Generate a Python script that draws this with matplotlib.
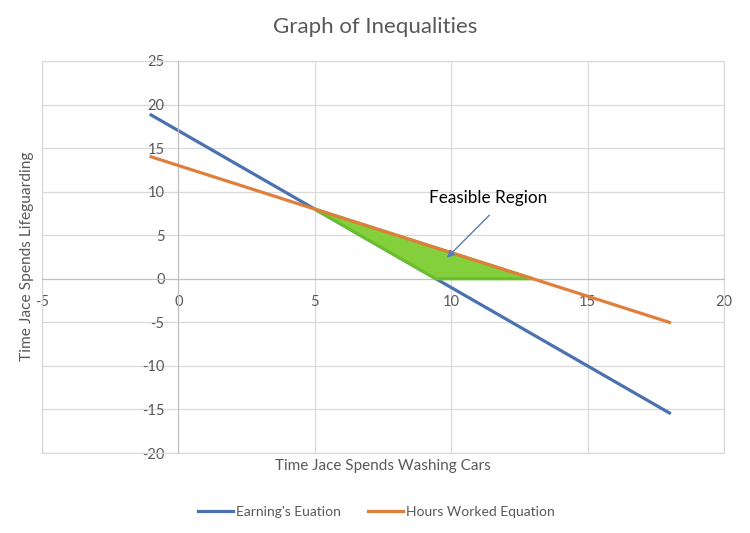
import matplotlib
matplotlib.use("Agg")
import matplotlib.pyplot as plt
from matplotlib.patches import Polygon, Rectangle

plt.rcParams['font.family'] = ['Lato', 'DejaVu Sans']
plt.rcParams['axes.unicode_minus'] = False

x_vals = [-1, 5, 18]
earnings = [18.8, 8, -15.4]
hours = [14, 8, -5]
feasible_x = [5, 9.44, 13]
feasible_y = [8, 0, 0]
x_ticks = [-5, 0, 5, 10, 15, 20]
y_ticks = [-20, -15, -10, -5, 0, 5, 10, 15, 20, 25]

fig = plt.figure(figsize=(7.5, 5.33), dpi=100)
ax = fig.add_axes([0.056, 0.150, 0.9093, 0.7356])
ax.set_xlim(-5, 20)
ax.set_ylim(-20, 25)
ax.set_xticks(x_ticks)
ax.set_yticks(y_ticks)
ax.grid(True, color='#D9D9D9', linewidth=0.9)
ax.set_axisbelow(True)

for s in ['top', 'right']:
    ax.spines[s].set_visible(False)
ax.spines['left'].set_position(('data', 0))
ax.spines['bottom'].set_position(('data', 0))
ax.spines['left'].set_color('#BFBFBF')
ax.spines['bottom'].set_color('#BFBFBF')
ax.add_patch(Rectangle((0, 0), 1, 1, transform=ax.transAxes, fill=False,
                       edgecolor='#D9D9D9', linewidth=0.9, clip_on=False))
ax.tick_params(length=0, labelsize=10.5, colors='#595959')
ax.tick_params(axis='x', pad=12)
ax.tick_params(axis='y', pad=10)

ax.plot(x_vals, earnings, color='#4A72B0', linewidth=2.3, label="Earning's Euation", zorder=2)
ax.add_patch(Polygon(list(zip(feasible_x, feasible_y)), closed=True,
                     facecolor='#84D03C', edgecolor='#6BBF2A', linewidth=2.2, zorder=3))
ax.plot(x_vals, hours, color='#E07E3C', linewidth=2.3, label='Hours Worked Equation', zorder=4)

ax.annotate('', xy=(9.84, 2.4), xytext=(11.4, 7.3),
            arrowprops=dict(arrowstyle='-|>', color='#5B7DB0', lw=1, mutation_scale=11,
                            shrinkA=0, shrinkB=0), zorder=5)
ax.text(11.35, 9.3, 'Feasible Region', ha='center', va='center', fontsize=12.3, color='#000000')

fig.text(0.5, 0.949, 'Graph of Inequalities', ha='center', va='center', fontsize=16, color='#595959')
fig.text(0.511, 0.126, 'Time Jace Spends Washing Cars', ha='center', va='center', fontsize=11, color='#595959')
fig.text(0.036, 0.52, 'Time Jace Spends Lifeguarding', ha='center', va='center', fontsize=11.2,
         color='#595959', rotation=90)

fig.legend(loc='center', bbox_to_anchor=(0.502, 0.04), ncol=2, frameon=False, fontsize=10,
           handlelength=2.5, handletextpad=0.2, columnspacing=2.0, labelcolor='#595959')

fig.savefig('out.png', dpi=100)
